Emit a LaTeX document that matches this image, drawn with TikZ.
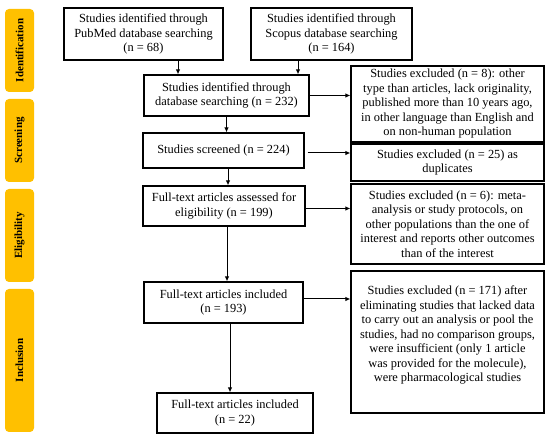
\documentclass[tikz,border=0pt]{standalone}
\usepackage{fontspec}
\setmainfont{Liberation Serif}
\usetikzlibrary{arrows.meta}
\definecolor{stagey}{HTML}{FFC000}
\tikzset{
  box/.style={draw=black, line width=1.2pt, inner sep=0pt, align=center,
    font=\fontsize{12.4}{14.5}\selectfont},
  stage/.style={fill=stagey, rounded corners=4pt, inner sep=0pt, minimum width=29pt,
    font=\fontsize{11}{13}\selectfont\bfseries},
  arr/.style={line width=1pt, -{Latex[length=5pt,width=4.5pt]}}
}
\begin{document}
\begin{tikzpicture}[x=1pt,y=-1pt]
\useasboundingbox (0,0) rectangle (550,438);
% stage labels
\node[stage, minimum height=83pt] (s1) at (19.5,50.5) {\rotatebox{90}{Identification}};
\node[stage, minimum height=83pt] (s2) at (19.5,140.5) {\rotatebox{90}{Screening}};
\node[stage, minimum height=93pt] (s3) at (19.5,235.5) {\rotatebox{90}{Eligibility}};
\node[stage, minimum height=143pt] (s4) at (19.5,360.5) {\rotatebox{90}{Inclusion}};
% main boxes
\node[box, minimum width=159pt, minimum height=52pt] (pub) at (143.5,34)
  {Studies identified through\\PubMed database searching\\(n = 68)};
\node[box, minimum width=161pt, minimum height=52pt] (sco) at (331.5,34)
  {Studies identified through\\Scopus database searching\\(n = 164)};
\node[box, minimum width=165pt, minimum height=41pt] (ide) at (226.5,95.5)
  {Studies identified through\\database searching (n = 232)};
\node[box, minimum width=161pt, minimum height=35pt] (scr) at (223.5,150.5)
  {Studies screened (n = 224)};
\node[box, minimum width=162pt, minimum height=40pt] (ass) at (224,206)
  {Full-text articles assessed for\\eligibility (n = 199)};
\node[box, minimum width=159pt, minimum height=41pt] (inA) at (223.5,302.5)
  {Full-text articles included\\(n = 193)};
\node[box, minimum width=156pt, minimum height=40pt] (inB) at (235,413)
  {Full-text articles included\\(n = 22)};
% exclusion boxes
\node[box, minimum width=193pt, minimum height=76pt] (ex1) at (447.5,104)
  {Studies excluded (n = 8): other\\type than articles, lack originality,\\published more than 10 years ago,\\in other language than English and\\on non-human population};
\node[box, minimum width=193pt, minimum height=37pt] (ex2) at (447.5,162.5)
  {Studies excluded (n = 25) as\\duplicates};
\node[box, minimum width=193pt, minimum height=80pt] (ex3) at (447.5,224)
  {Studies excluded (n = 6): meta-\\analysis or study protocols, on\\other populations than the one of\\interest and reports other outcomes\\than of the interest};
\node[box, minimum width=193pt, minimum height=142pt] (ex4) at (447.5,342)
  {\parbox[c][140pt][c]{190pt}{\centering Studies excluded (n = 171) after\\eliminating studies that lacked data\\to carry out an analysis or pool the\\studies, had no comparison groups,\\were insufficient (only 1 article\\was provided for the molecule),\\were pharmacological studies\par\vspace{14pt}}};
% vertical arrows
\draw[arr] ([xshift=34.5pt]pub.south) -- ([xshift=34.5pt]pub.south |- ide.north);
\draw[arr] ([xshift=-33.5pt]sco.south) -- ([xshift=-33.5pt]sco.south |- ide.north);
\draw[arr] (ide.south) -- (ide.south |- scr.north);
\draw[arr] ([xshift=4.5pt]scr.south) -- ([xshift=4.5pt]scr.south |- ass.north);
\draw[arr] ([xshift=3pt]ass.south) -- ([xshift=3pt]ass.south |- inA.north);
\draw[arr] ([xshift=6.5pt]inA.south) -- ([xshift=6.5pt]inA.south |- inB.north);
% horizontal arrows
\draw[arr] (ide.east) -- (ide.east -| ex1.west);
\draw[arr] ([shift={(3pt,-2.5pt)}]scr.east) -- ([yshift=-2.5pt]scr.east -| ex2.west);
\draw[arr] ([yshift=-2.5pt]ass.east) -- ([yshift=-2.5pt]ass.east -| ex3.west);
\draw[arr] ([yshift=3.5pt]inA.east) -- ([yshift=3.5pt]inA.east -| ex4.west);
\end{tikzpicture}
\end{document}
